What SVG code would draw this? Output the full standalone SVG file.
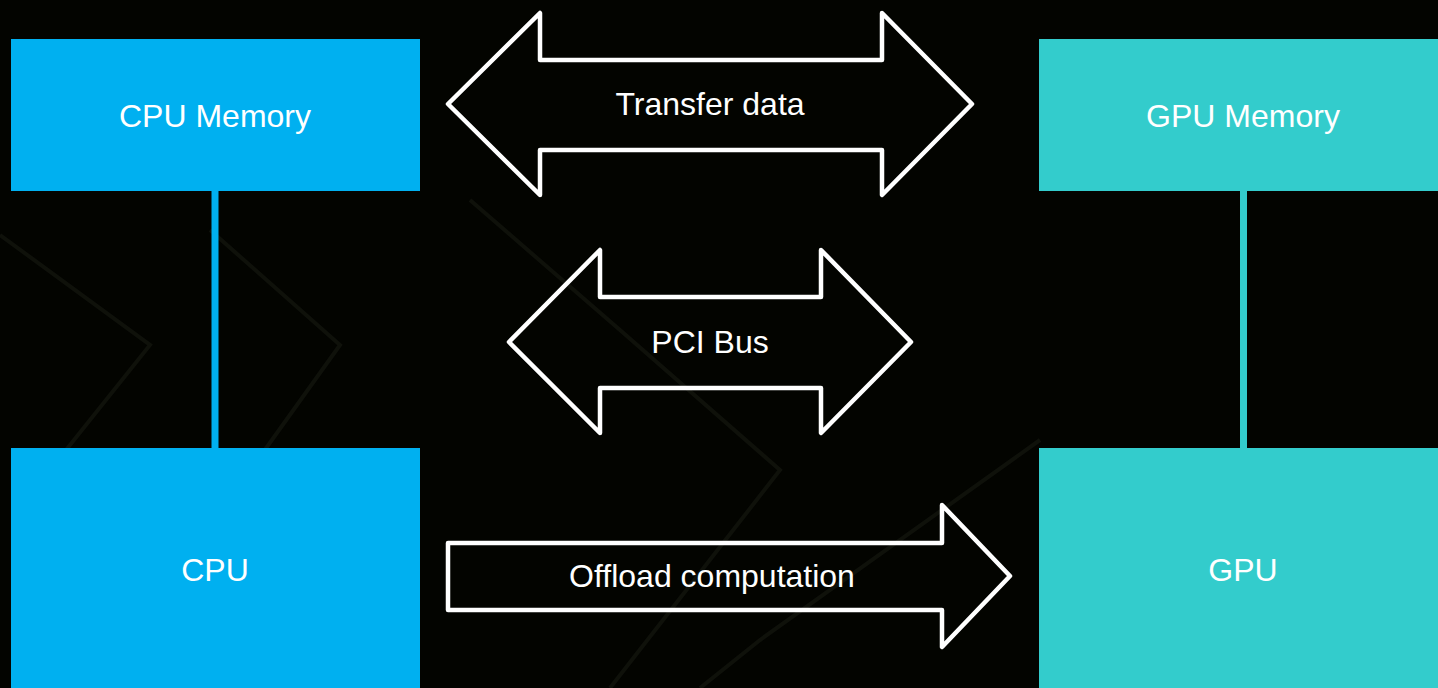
<svg xmlns="http://www.w3.org/2000/svg" width="1438" height="688" viewBox="0 0 1438 688">
  <defs>
    <style>
      .lbl { font-family: "Liberation Sans", Arial, sans-serif; font-size: 32px; fill: #ffffff; text-anchor: middle; }
      .cpu { fill: #00B0F0; }
      .gpu { fill: #33CCCC; }
      .arrow { fill: none; stroke: #ffffff; stroke-width: 4.5; stroke-linejoin: round; }
      .bg { fill: none; stroke: #0f110a; stroke-width: 4; }
    </style>
  </defs>
  <rect x="0" y="0" width="1438" height="688" fill="#030400"/>
  <g id="background">
    <path class="bg" d="M0,235 L150,345 L50,470"/>
    <path class="bg" d="M210,230 L340,345 L150,610"/>
    <path class="bg" d="M470,200 L620,330 L780,470 L610,688"/>
    <path class="bg" d="M1040,440 L760,640 L700,688"/>
  </g>
  <g id="connectors">
    <rect x="211.5" y="190" width="7" height="259" class="cpu"/>
    <rect x="1240" y="190" width="7" height="259" class="gpu"/>
  </g>
  <g id="cpu-memory">
    <rect x="11" y="39" width="409" height="152" class="cpu"/>
    <text x="215" y="127" class="lbl">CPU Memory</text>
  </g>
  <g id="gpu-memory">
    <rect x="1039" y="39" width="409" height="152" class="gpu"/>
    <text x="1243" y="127" class="lbl">GPU Memory</text>
  </g>
  <g id="cpu">
    <rect x="11" y="448" width="409" height="250" class="cpu"/>
    <text x="215" y="581" class="lbl">CPU</text>
  </g>
  <g id="gpu">
    <rect x="1039" y="448" width="409" height="250" class="gpu"/>
    <text x="1243" y="581" class="lbl">GPU</text>
  </g>
  <g id="transfer-data">
    <path class="arrow" d="M448,104 L540,13 L540,60 L882,60 L882,13 L972,104 L882,195 L882,150 L540,150 L540,195 Z"/>
    <text x="710" y="115" class="lbl">Transfer data</text>
  </g>
  <g id="pci-bus">
    <path class="arrow" d="M509,342 L600,250 L600,297 L821,297 L821,250 L911,342 L821,433 L821,388 L600,388 L600,433 Z"/>
    <text x="710" y="353" class="lbl">PCI Bus</text>
  </g>
  <g id="offload-computation">
    <path class="arrow" d="M448,543 L942,543 L942,505 L1010,576 L942,647 L942,610 L448,610 Z"/>
    <text x="712" y="587" class="lbl">Offload computation</text>
  </g>
</svg>
